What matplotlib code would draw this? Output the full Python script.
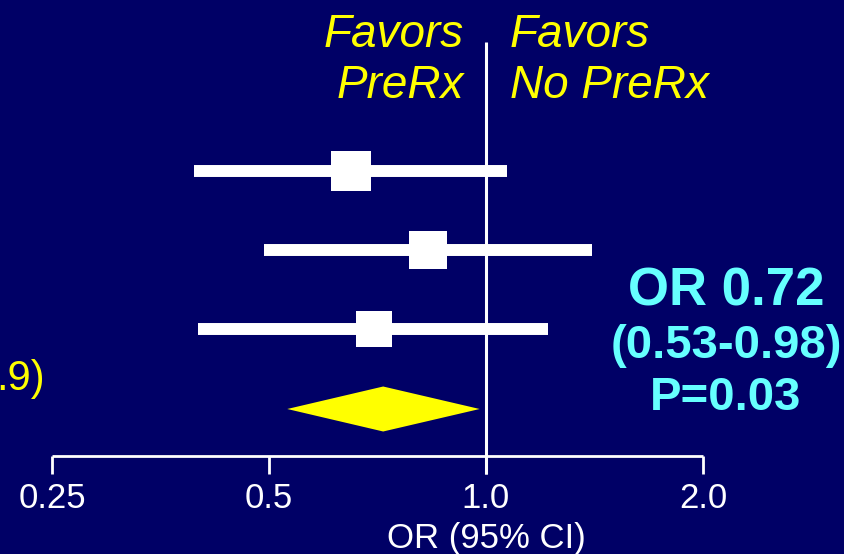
import matplotlib
matplotlib.use("Agg")
import matplotlib.pyplot as plt
from matplotlib.patches import Polygon

# ---- data ----
studies_or = [0.65, 0.83, 0.70]
studies_lo = [0.394, 0.492, 0.399]
studies_hi = [1.069, 1.405, 1.218]
pooled_or = 0.72
pooled_lo = 0.53
pooled_hi = 0.98
tick_values = [0.25, 0.5, 1.0, 2.0]
tick_labels = ["0.25", "0.5", "1.0", "2.0"]
x_label = "OR (95% CI)"
left_header = ["Favors", "PreRx"]
right_header = ["Favors", "No PreRx"]
summary_lines = ["OR 0.72", "(0.53-0.98)", "P=0.03"]
left_fragment = ".9)"

# ---- layout / style ----
BG = "#000066"
YEL = "#FFFF00"
CYAN = "#66FFFF"
FONT = "Liberation Sans"
row_y = [171, 250, 329]
diamond_y = 409
diamond_half_h = 22.5
marker_sizes = [29.5, 27.5, 25.5]
axis_y = 456
tick_bottom = 474
ref_top = 42
summary_baselines = [305, 358, 410]
summary_sizes = [38, 34, 34]

fig = plt.figure(figsize=(8.45, 5.54), dpi=100, facecolor=BG)
ax = fig.add_axes([0, 0, 1, 1])
ax.set_facecolor(BG)
ax.set_xscale("log")
# x_px = 486 + 217*log2(OR)
ax.set_xlim(2 ** (-486 / 217), 2 ** ((845 - 486) / 217))
ax.set_ylim(554, 0)
ax.axis("off")

# reference line at OR = 1
ax.plot([1.0, 1.0], [ref_top, tick_bottom], color="white", lw=2.2, solid_capstyle="butt", zorder=2)

# study rows
for o, lo, hi, y, ms in zip(studies_or, studies_lo, studies_hi, row_y, marker_sizes):
    ax.plot([lo, hi], [y, y], color="white", lw=8.6, solid_capstyle="butt", zorder=3)
    ax.plot([o], [y], marker="s", ms=ms, color="white", mec="white", mew=0, zorder=4)

# pooled diamond
d = Polygon([(pooled_lo, diamond_y), (pooled_or, diamond_y - diamond_half_h),
             (pooled_hi, diamond_y), (pooled_or, diamond_y + diamond_half_h)],
            closed=True, facecolor=YEL, edgecolor="none", zorder=4)
ax.add_patch(d)

# x axis
ax.plot([tick_values[0], tick_values[-1]], [axis_y, axis_y], color="white", lw=2, solid_capstyle="butt", zorder=2)
for tv, tl in zip(tick_values, tick_labels):
    ax.plot([tv, tv], [axis_y, tick_bottom], color="white", lw=2, solid_capstyle="butt", zorder=2)
    ax.text(tv, 508, tl, ha="center", va="baseline", color="white", fontsize=25, family=FONT)
ax.text(1.0, 548, x_label, ha="center", va="baseline", color="white", fontsize=25, family=FONT)

# headers
for i, (lt, rt) in enumerate(zip(left_header, right_header)):
    base = 47 + i * 51
    ax.text(2 ** ((464 - 486) / 217), base, lt, ha="right", va="baseline", color=YEL,
            fontsize=33, style="italic", family=FONT)
    ax.text(2 ** ((510 - 486) / 217), base, rt, ha="left", va="baseline", color=YEL,
            fontsize=33, style="italic", family=FONT)

# summary text
sx = 2 ** ((726 - 486) / 217)
for line, yb, fs in zip(summary_lines, summary_baselines, summary_sizes):
    ax.text(sx, yb, line, ha="center", va="baseline", color=CYAN, fontsize=fs,
            fontweight="bold", family=FONT)

# fragment of a label that runs off the left edge (as in the reference)
ax.text(2 ** ((45 - 486) / 217), 390, left_fragment, ha="right", va="baseline", color=YEL,
        fontsize=30, family=FONT)

fig.savefig("out.png", dpi=100, facecolor=BG)
